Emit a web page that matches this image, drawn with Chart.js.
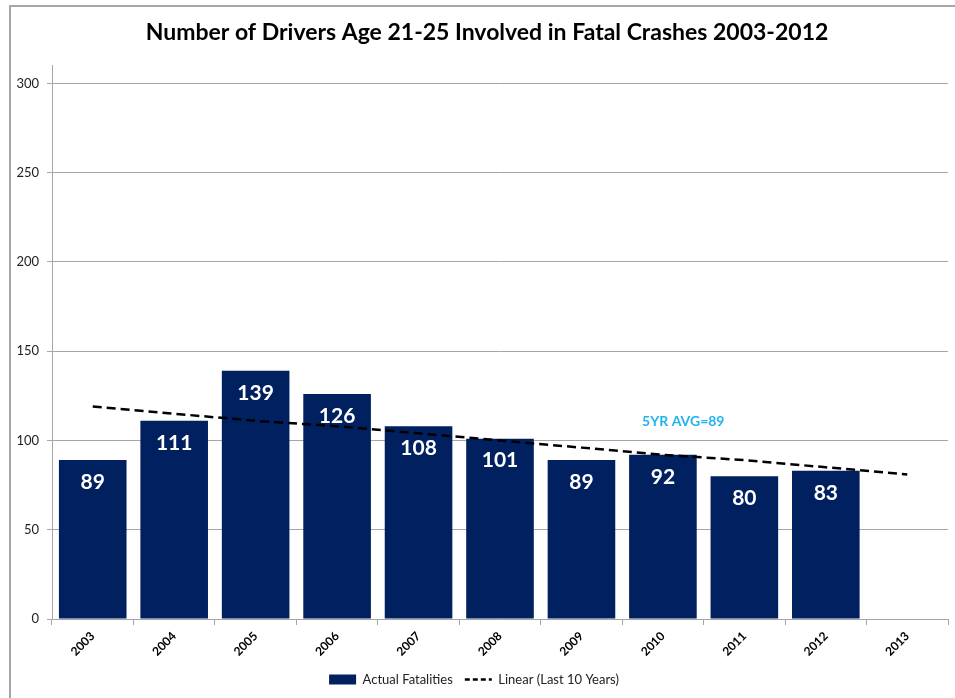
<!DOCTYPE html>
<html>
<head>
<meta charset="utf-8">
<script src="https://cdn.jsdelivr.net/npm/chart.js@4.4.1/dist/chart.umd.min.js"></script>
<style>
  html, body { margin: 0; padding: 0; background: #fff; }
  #wrap { position: relative; width: 955px; height: 698px; }
</style>
</head>
<body>
<div id="wrap"><canvas id="crashChart" width="955" height="698"></canvas></div>
<script>
// chart data
const years = ['2003', '2004', '2005', '2006', '2007', '2008', '2009', '2010', '2011', '2012', '2013'];
const actualFatalities = [89, 111, 139, 126, 108, 101, 89, 92, 80, 83, null];
const linearTrend = [119, 115, 111, 108, 104, 100, 96, 92, 89, 85, 81];
const yTicks = [0, 50, 100, 150, 200, 250, 300];
const avgNote = '5YR AVG=89';

const baseFont = "'Lato', 'Open Sans', sans-serif";

// value labels inside the bars + the avg note + outer frame
const extrasPlugin = {
    id: 'extras',
    afterLayout(chart) {
        // the title sits a bit right of the canvas centre
        chart.titleBlock.left = 26;
    },
    beforeDraw(chart) {
        const c = chart.ctx;
        c.save();
        c.strokeStyle = '#a6a6a6';
        c.lineWidth = 2;
        c.beginPath();
        c.moveTo(10, 698);
        c.lineTo(10, 6);
        c.lineTo(955, 6);
        c.stroke();
        c.restore();
    },
    afterDatasetsDraw(chart) {
        const c = chart.ctx;
        const meta = chart.getDatasetMeta(0);
        c.save();
        c.fillStyle = '#ffffff';
        c.font = "bold 21px " + baseFont;
        c.textAlign = 'center';
        c.textBaseline = 'middle';
        meta.data.forEach(function(bar, i) {
            const v = actualFatalities[i];
            if (v === null) return;
            c.fillText(String(v), bar.x, bar.y + 22);
        });
        // 5 year average note
        const xs = chart.scales.x, ys = chart.scales.y;
        const x7 = xs.getPixelForValue(7), x8 = xs.getPixelForValue(8);
        c.fillStyle = '#1fb4ee';
        c.font = "bold 14px " + baseFont;
        c.fillText(avgNote, x7 + (x8 - x7) * 0.25, ys.getPixelForValue(110.5));
        c.restore();
    }
};

const ctx = document.getElementById('crashChart').getContext('2d');

const chartData = {
    labels: years,
    datasets: [
        {
            type: 'bar',
            label: 'Actual Fatalities',
            data: actualFatalities,
            backgroundColor: '#002060',
            borderWidth: 0,
            barPercentage: 0.83,
            categoryPercentage: 1.0,
            order: 1,
        },
        {
            type: 'line',
            label: 'Linear (Last 10 Years)',
            data: linearTrend,
            borderColor: '#000000',
            backgroundColor: '#000000',
            borderWidth: 2.5,
            borderDash: [9, 5],
            pointRadius: 0,
            fill: false,
            tension: 0,
            order: 0,
        },
    ],
};

const chartOptions = {
    responsive: false,
    animation: false,
    layout: { padding: { top: 6, right: 7, bottom: 2, left: 0 } },
    plugins: {
        title: {
            display: true,
            text: 'Number of Drivers Age 21-25 Involved in Fatal Crashes 2003-2012',
            color: '#000',
            font: { family: baseFont, size: 23, weight: 'bold' },
            padding: { top: 13, bottom: 19 },
        },
        legend: {
            position: 'bottom',
            labels: {
                usePointStyle: true,
                pointStyleWidth: 27,
                boxHeight: 10,
                color: '#222',
                font: { family: baseFont, size: 13 },
                padding: 12,
                generateLabels(chart) {
                    return chart.data.datasets.map(function(ds, i) {
                        const isLine = ds.type === 'line';
                        return {
                            text: ds.label,
                            datasetIndex: i,
                            fillStyle: isLine ? '#000' : '#002060',
                            strokeStyle: isLine ? '#000' : '#002060',
                            lineWidth: isLine ? 2.5 : 0,
                            lineDash: isLine ? [5, 3] : [],
                            pointStyle: isLine ? 'line' : 'rect',
                            fontColor: '#222',
                            hidden: false,
                        };
                    });
                },
            },
        },
        tooltip: { enabled: false },
    },
    scales: {
        x: {
            grid: {
                offset: true,
                drawOnChartArea: false,
                drawTicks: true,
                tickLength: 6,
                color: '#a6a6a6',
            },
            border: { color: '#a6a6a6', width: 1 },
            ticks: {
                color: '#000',
                font: { family: baseFont, size: 12, weight: 'bold' },
                maxRotation: 45,
                minRotation: 45,
                padding: 4,
            },
            afterFit(scale) { scale.height = 42; },
        },
        y: {
            min: 0,
            max: 310,
            afterBuildTicks(scale) {
                scale.ticks = yTicks.map(v => ({ value: v }));
            },
            grid: {
                color: '#a6a6a6',
                tickLength: 5,
            },
            border: { color: '#a6a6a6', width: 1 },
            ticks: {
                color: '#222',
                font: { family: baseFont, size: 13 },
                padding: 8,
            },
            afterFit(scale) { scale.width = 52; },
        },
    },
};

const crashChart = new Chart(ctx, {
    type: 'bar',
    data: chartData,
    options: chartOptions,
    plugins: [extrasPlugin],
});
</script>
</body>
</html>
